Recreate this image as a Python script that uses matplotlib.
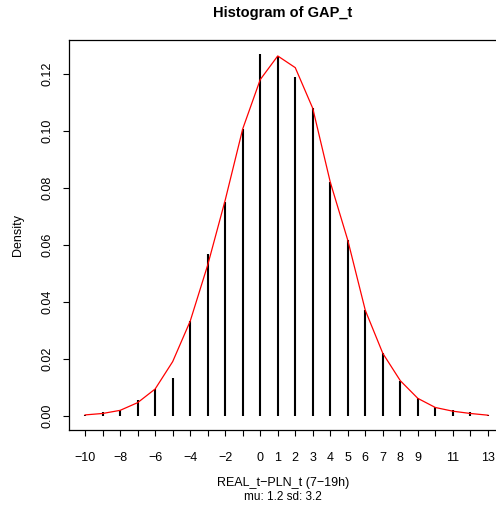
import matplotlib
matplotlib.use("Agg")
import matplotlib.pyplot as plt

plt.rcParams['font.family'] = ['Liberation Sans', 'DejaVu Sans']

# histogram densities at each integer GAP value
gap_values = list(range(-10, 14))
hist_density = [0.0003, 0.0012, 0.0021, 0.0055, 0.0094, 0.0131, 0.0332, 0.0567,
                0.0751, 0.1007, 0.1270, 0.1263, 0.1189, 0.1079, 0.0820, 0.0616,
                0.0371, 0.0219, 0.0123, 0.0061, 0.0029, 0.0020, 0.0013, 0.0002]
# fitted normal curve
normal_density = [0.0003, 0.0008, 0.0019, 0.0046, 0.0094, 0.0190, 0.0332, 0.0529,
                  0.0757, 0.1007, 0.1180, 0.1263, 0.1222, 0.1079, 0.0820, 0.0616,
                  0.0370, 0.0219, 0.0123, 0.0061, 0.0029, 0.0016, 0.0008, 0.0002]
x_tick_labels = ['-10', '', '-8', '', '-6', '', '-4', '', '-2', '', '0', '1', '2',
                 '3', '4', '5', '6', '7', '8', '9', '', '11', '', '13']
y_ticks = [0.00, 0.02, 0.04, 0.06, 0.08, 0.10, 0.12]

W, H = 496, 509
fig = plt.figure(figsize=(W / 100, H / 100), dpi=100)
# box runs past the right edge of the picture, as in the original
ax = fig.add_axes([69 / W, 1 - 430 / H, 435 / W, 390 / H])

ax.vlines(gap_values, 0, hist_density, color='black', linewidth=1.5)
ax.plot(gap_values, normal_density, color='red', linewidth=0.9)

ax.set_xlim(-10.92, 13.92)
ax.set_ylim(-0.0050, 0.1319)
ax.set_xticks(gap_values)
ax.set_xticklabels([s.replace('-', '\u2212') for s in x_tick_labels], fontsize=9)
ax.set_yticks(y_ticks)
ax.set_yticklabels(['%.2f' % v for v in y_ticks], fontsize=9, rotation=90, va='center')
ax.tick_params(axis='both', direction='out', length=4.5, width=0.8, pad=11, colors='black')
ax.tick_params(axis='y', pad=7)
for s in ax.spines.values():
    s.set_linewidth(0.9)

ax.set_ylabel('Density', fontsize=9, labelpad=12)
fig.text(283 / W, 1 - 13 / H, 'Histogram of GAP_t', ha='center', va='center',
         fontsize=10.5, fontweight='bold')
fig.text(283 / W, 1 - 483 / H, 'REAL_t\u2212PLN_t (7\u221219h)', ha='center', va='center', fontsize=9)
fig.text(283 / W, 1 - 497 / H, 'mu: 1.2 sd: 3.2', ha='center', va='center', fontsize=8.5)

fig.savefig('out.png', dpi=100)
